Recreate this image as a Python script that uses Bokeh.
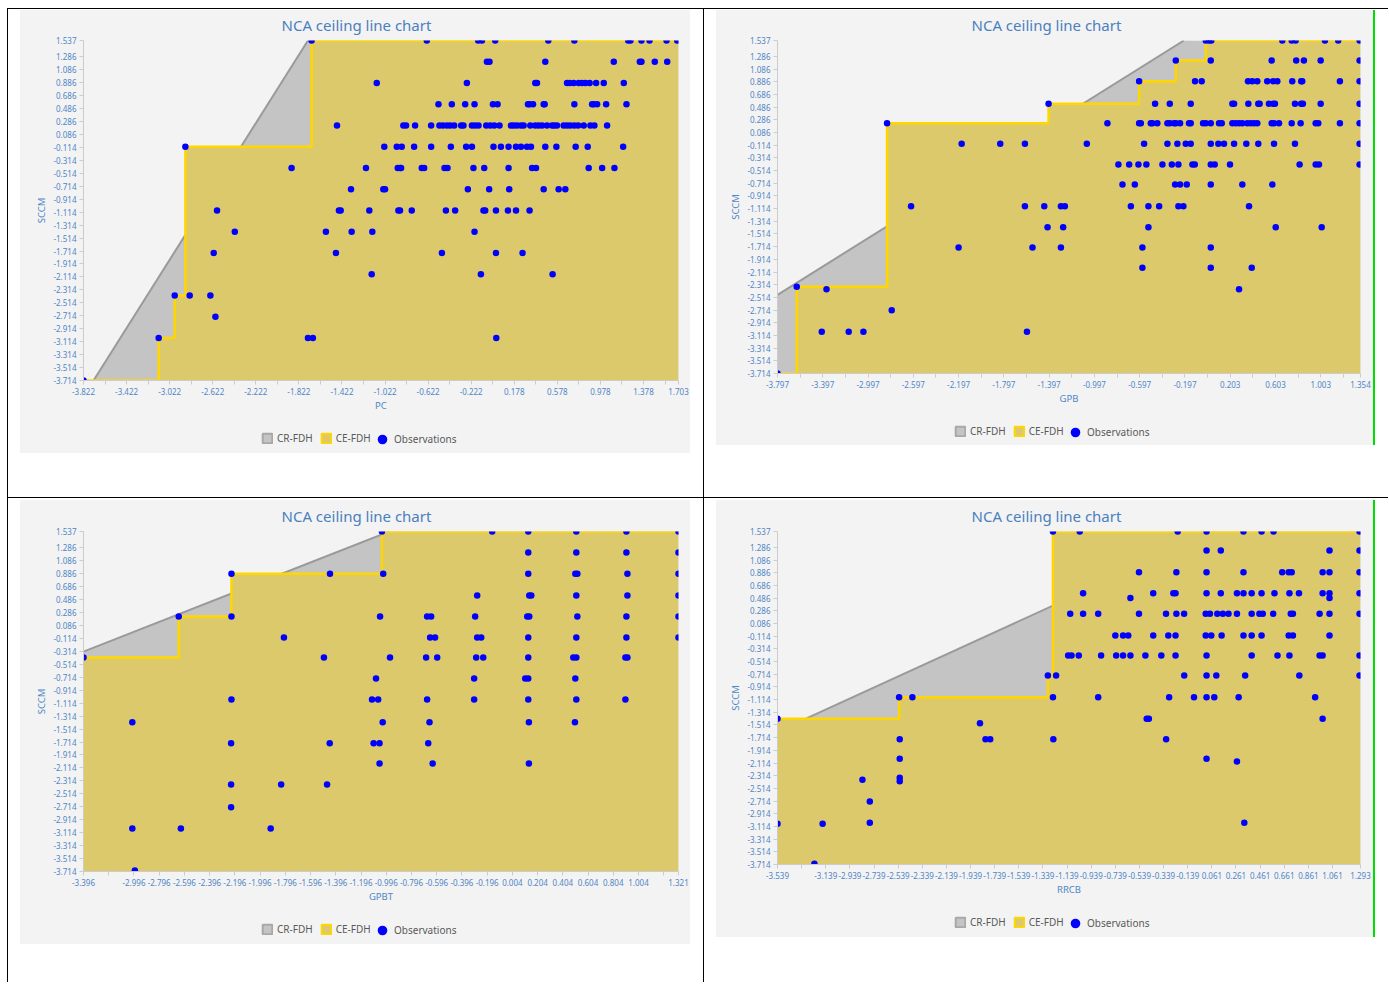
from bokeh.plotting import figure
from bokeh.models import (Range1d, FixedTicker, PrintfTickFormatter,
                          Legend, LegendItem, Div)
from bokeh.layouts import row, column
from bokeh.embed import file_html
from bokeh.resources import INLINE

FONT = "Noto Sans"
TITLE = "NCA ceiling line chart"
Y_LABEL = "SCCM"
Y_MIN, Y_MAX = -3.714, 1.537
y_ticks = [-3.714, -3.514, -3.314, -3.114, -2.914, -2.714, -2.514, -2.314, -2.114,
           -1.914, -1.714, -1.514, -1.314, -1.114, -0.914, -0.714, -0.514, -0.314,
           -0.114, 0.086, 0.286, 0.486, 0.686, 0.886, 1.086, 1.286, 1.537]
legend_labels = ["CR-FDH", "CE-FDH", "Observations"]

# ---------------- Panel 1 : PC ----------------
pc_label = "PC"
pc_range = [-3.822, 1.703]
pc_ticks = [-3.822, -3.422, -3.022, -2.622, -2.222, -1.822, -1.422, -1.022, -0.622,
            -0.222, 0.178, 0.578, 0.978, 1.378, 1.703]
pc_minor = [-3.622, -3.222, -2.822, -2.422, -2.022, -1.622, -1.222, -0.822, -0.422,
            -0.022, 0.378, 0.778, 1.178, 1.578]
pc_cr = [6.119, 2.637]          # CR-FDH intercept, slope
pc_row_y = [1.537, 1.209, 0.881, 0.553, 0.224, -0.104, -0.432, -0.760, -1.089,
            -1.417, -1.745, -2.073, -2.401, -2.730, -3.058, -3.714]
pc_row_x = [
    [-1.704, -0.634, -0.157, -0.122, 0.001, 0.494, 0.736, 1.236, 1.257, 1.359, 1.434, 1.592, 1.691],
    [-0.076, -0.052, 0.466, 1.102, 1.344, 1.359, 1.483, 1.598],
    [-1.099, -0.262, 0.373, 0.389, 0.668, 0.692, 0.730, 0.776, 0.808, 0.838, 0.878, 0.938, 1.009, 1.195],
    [-0.526, -0.402, -0.278, -0.191, -0.020, 0.023, 0.305, 0.320, 0.352, 0.451, 0.460, 0.736, 0.901,
     0.916, 0.947, 1.031, 1.220],
    [-1.468, -0.852, -0.827, -0.743, -0.594, -0.517, -0.485, -0.448, -0.417, -0.380, -0.315, -0.294,
     -0.215, -0.185, -0.154, -0.082, -0.045, -0.008, 0.041, 0.147, 0.172, 0.203, 0.240, 0.265, 0.327,
     0.373, 0.404, 0.436, 0.482, 0.529, 0.550, 0.575, 0.637, 0.668, 0.699, 0.736, 0.771, 0.823, 0.885,
     0.922, 1.040],
    [-2.876, -1.029, -0.913, -0.867, -0.752, -0.594, -0.411, -0.269, -0.215, -0.015, 0.054, 0.125,
     0.194, 0.240, 0.296, 0.333, 0.466, 0.569, 0.748, 0.860, 1.189],
    [-1.890, -1.199, -0.904, -0.883, -0.873, -0.681, -0.659, -0.470, -0.442, -0.201, -0.101, 0.125,
     0.343, 0.380, 0.869, 0.994, 1.108],
    [-1.338, -1.038, -1.022, -0.253, -0.055, 0.131, 0.451, 0.590, 0.652],
    [-2.582, -1.450, -1.434, -1.168, -0.898, -0.883, -0.774, -0.457, -0.371, -0.108, -0.092, 0.008,
     0.119, 0.194, 0.320],
    [-2.417, -1.571, -1.332, -1.140, -0.191],
    [-2.613, -1.478, -0.494, 0.008, 0.255],
    [-1.146, -0.132, 0.534],
    [-2.975, -2.836, -2.644],
    [-2.597],
    [-3.124, -1.738, -1.692, 0.011],
    [-3.822],
]

# ---------------- Panel 2 : GPB ----------------
gpb_label = "GPB"
gpb_range = [-3.797, 1.354]
gpb_ticks = [-3.797, -3.397, -2.997, -2.597, -2.197, -1.797, -1.397, -0.997, -0.597,
             -0.197, 0.203, 0.603, 1.003, 1.354]
gpb_minor = [-3.597, -3.197, -2.797, -2.397, -1.997, -1.597, -1.197, -0.797, -0.397,
             0.003, 0.403, 0.803, 1.203]
gpb_cr = [1.767, 1.117]
gpb_row_y = [1.537, 1.222, 0.895, 0.540, 0.233, -0.092, -0.419, -0.734, -1.076, -1.407,
             -1.727, -2.048, -2.347, -2.385, -2.715, -3.055, -3.714]
gpb_row_x = [
    [-0.013, 0.016, 0.036, 0.663, 0.746, 0.781, 1.040, 1.157, 1.346],
    [-0.278, 0.031, 0.569, 0.786, 0.854, 1.002, 1.346],
    [-0.602, -0.108, -0.049, 0.360, 0.398, 0.442, 0.530, 0.581, 0.619, 0.751, 0.830, 0.839, 1.172, 1.346],
    [-1.402, -0.461, -0.331, -0.146, 0.222, 0.237, 0.363, 0.451, 0.463, 0.545, 0.581, 0.598, 0.775,
     0.830, 0.845, 1.002, 1.346],
    [-2.829, -0.882, -0.602, -0.587, -0.499, -0.485, -0.441, -0.352, -0.331, -0.293, -0.278, -0.240,
     -0.161, -0.146, -0.037, -0.013, 0.031, 0.104, 0.128, 0.222, 0.251, 0.281, 0.310, 0.354, 0.384,
     0.413, 0.442, 0.569, 0.590, 0.634, 0.746, 0.825, 0.958, 0.981, 1.172, 1.346],
    [-2.170, -1.829, -1.611, -1.064, -0.558, -0.352, -0.264, -0.190, -0.146, 0.031, 0.098, 0.148,
     0.237, 0.345, 0.451, 0.590, 0.775, 1.346],
    [-0.785, -0.690, -0.608, -0.538, -0.396, -0.313, -0.255, -0.131, -0.110, 0.031, 0.066, 0.201,
     0.816, 0.958, 0.987, 1.346],
    [-0.749, -0.640, -0.284, -0.240, -0.181, 0.031, 0.310, 0.575],
    [-2.617, -1.611, -1.440, -1.293, -1.258, -0.675, -0.520, -0.425, -0.255, -0.211, 0.369],
    [-1.411, -1.273, -0.520, 0.605, 1.011],
    [-2.197, -1.544, -1.293, -0.573, 0.031],
    [-0.573, 0.031, 0.393],
    [-3.627],
    [-3.364, 0.281],
    [-2.788],
    [-3.406, -3.168, -3.038, -1.593],
    [-3.797],
]

# ---------------- Panel 3 : GPBT ----------------
gpbt_label = "GPBT"
gpbt_range = [-3.396, 1.321]
gpbt_ticks = [-3.396, -2.996, -2.796, -2.596, -2.396, -2.196, -1.996, -1.796, -1.596,
              -1.396, -1.196, -0.996, -0.796, -0.596, -0.396, -0.196, 0.004, 0.204,
              0.404, 0.604, 0.804, 1.004, 1.321]
gpbt_minor = [-3.196, 1.204]
gpbt_cr = [2.280, 0.765]
gpbt_row_y = [1.537, 1.213, 0.886, 0.549, 0.224, -0.100, -0.409, -0.733, -1.058, -1.410,
              -1.733, -2.045, -2.370, -2.721, -3.050, -3.698]
gpbt_row_x = [
    [-1.030, -0.156, 0.130, 0.511, 0.908, 1.321],
    [0.130, 0.511, 0.908, 1.321],
    [-2.223, -1.442, -1.020, 0.130, 0.503, 0.519, 0.916, 1.321],
    [-0.275, 0.138, 0.154, 0.511, 0.916, 1.321],
    [-2.641, -2.223, -1.045, -0.672, -0.640, -0.291, 0.122, 0.138, 0.519, 0.908, 1.321],
    [-1.807, -0.648, -0.609, -0.275, -0.243, 0.130, 0.511, 0.908, 1.321],
    [-3.396, -1.490, -0.966, -0.680, -0.592, -0.283, -0.227, 0.130, 0.487, 0.511, 0.900, 0.916],
    [-1.077, -0.299, 0.106, 0.130, 0.503],
    [-2.223, -1.109, -1.060, -0.672, -0.299, 0.130, 0.511, 0.900],
    [-3.009, -1.024, -0.653, 0.135, 0.500],
    [-2.226, -1.444, -1.096, -1.049, -0.663],
    [-1.049, -0.628, 0.135],
    [-2.226, -1.829, -1.465],
    [-2.226],
    [-3.009, -2.624, -1.912],
    [-2.989],
]

# ---------------- Panel 4 : RRCB ----------------
rrcb_label = "RRCB"
rrcb_range = [-3.539, 1.293]
rrcb_ticks = [-3.539, -3.139, -2.939, -2.739, -2.539, -2.339, -2.139, -1.939, -1.739,
              -1.539, -1.339, -1.139, -0.939, -0.739, -0.539, -0.339, -0.139, 0.061,
              0.261, 0.461, 0.661, 0.861, 1.061, 1.293]
rrcb_minor = [-3.339]
rrcb_cr = [1.461, 0.870]
rrcb_row_y = [1.537, 1.237, 0.895, 0.564, 0.490, 0.239, -0.103, -0.418, -0.734, -1.076,
              -1.416, -1.486, -1.738, -2.047, -2.090, -2.347, -2.378, -2.400, -2.720,
              -3.056, -3.072, -3.703]
rrcb_row_x = [
    [-1.256, -1.034, -0.222, 0.017, 0.323, 0.473, 0.572, 1.285],
    [0.017, 0.135, 1.036, 1.285],
    [-0.543, -0.233, 0.017, 0.323, 0.644, 0.698, 0.723, 0.979, 1.036, 1.285],
    [-1.006, -0.425, -0.258, -0.240, 0.017, 0.135, 0.269, 0.323, 0.391, 0.473, 0.580, 0.704,
     0.783, 0.979, 1.036, 1.285],
    [-0.614, 1.036],
    [-1.113, -1.006, -0.881, -0.543, -0.319, -0.233, -0.169, 0.010, 0.045, 0.106, 0.152, 0.199,
     0.269, 0.391, 0.455, 0.483, 0.569, 0.715, 0.733, 0.954, 1.036, 1.285],
    [-0.739, -0.675, -0.632, -0.425, -0.300, -0.240, 0.010, 0.056, 0.142, 0.323, 0.391, 0.473,
     0.698, 0.733, 1.036],
    [-1.130, -1.102, -1.042, -0.857, -0.732, -0.675, -0.614, -0.490, -0.358, -0.240, 0.017, 0.391,
     0.605, 0.704, 0.954, 0.979, 1.285],
    [-1.298, -1.230, -0.168, 0.017, 0.098, 0.337, 0.786, 1.285],
    [-2.531, -2.421, -1.256, -0.881, -0.293, -0.087, 0.017, 0.081, 0.283, 0.917],
    [-3.539, -0.479, -0.461, 0.979],
    [-1.861],
    [-2.526, -1.815, -1.776, -1.253, -0.318],
    [-2.526, 0.017],
    [0.269],
    [-2.526],
    [-2.835],
    [-2.526],
    [-2.774],
    [-2.774, 0.330],
    [-3.539, -3.165],
    [-3.233],
]

BG = "#f3f3f3"
GRAY_FILL = "#c4c4c4"
GRAY_LINE = "#9a9a9a"
CE_FILL = "#dcc96c"
CE_LINE = "#ffd700"
DOT = "#0000ff"
TITLE_COLOR = "#4a80bf"
TICK_COLOR = "#4f86c6"
AXIS_COLOR = "#cccccc"


def flatten(row_y, row_x):
    xs, ys = [], []
    for yv, xr in zip(row_y, row_x):
        for xv in xr:
            xs.append(xv)
            ys.append(yv)
    return xs, ys


def ce_fdh(xs, ys, x_end):
    pts = sorted(zip(xs, ys))
    sx, sy = [pts[0][0]], [pts[0][1]]
    cur = pts[0][1]
    for xv, yv in pts[1:]:
        if yv > cur:
            if xv == sx[-1]:
                sy[-1] = yv
            else:
                sx += [xv, xv]
                sy += [cur, yv]
            cur = yv
    sx.append(x_end)
    sy.append(cur)
    return sx, sy


def chart(x_range, ticks, minor, x_label, row_y, row_x, cr, width, height,
          borders, title_offset):
    x0, x1 = x_range
    left, right, top, bottom = borders
    p = figure(width=width, height=height,
               x_range=Range1d(x0, x1), y_range=Range1d(Y_MIN, Y_MAX),
               output_backend="svg", toolbar_location=None,
               min_border_left=left, min_border_right=right,
               min_border_top=top, min_border_bottom=bottom,
               background_fill_color=BG, border_fill_color=BG,
               outline_line_color=None, x_axis_label=x_label,
               y_axis_label=Y_LABEL, title=TITLE)
    p.grid.visible = False
    p.title.align = "left"
    p.title.offset = title_offset
    p.title.vertical_align = "top"
    p.title.standoff = 8
    p.title.text_font = FONT
    p.title.text_font_size = "15px"
    p.title.text_font_style = "normal"
    p.title.text_color = TITLE_COLOR

    xs, ys = flatten(row_y, row_x)

    # CR-FDH region (area under the ceiling regression line)
    a, b = cr
    xs0 = max(x0, (Y_MIN - a) / b)
    xt = min(x1, (Y_MAX - a) / b)
    p.patch([xs0, xs0, xt, x1, x1],
            [Y_MIN, a + b * xs0, min(Y_MAX, a + b * xt), min(Y_MAX, a + b * x1), Y_MIN],
            fill_color=GRAY_FILL, line_color=None)
    p.line([xs0, xt], [a + b * xs0, min(Y_MAX, a + b * xt)],
           line_color=GRAY_LINE, line_width=2)

    # CE-FDH step ceiling
    sx, sy = ce_fdh(xs, ys, x1)
    p.patch(sx + [x1, sx[0]], sy + [Y_MIN, Y_MIN], fill_color=CE_FILL, line_color=None)
    p.line(sx, sy, line_color=CE_LINE, line_width=2.5)

    p.scatter(xs, ys, size=6.5, fill_color=DOT, line_color=None)

    xa, ya = p.xaxis[0], p.yaxis[0]
    xa.ticker = FixedTicker(ticks=ticks, minor_ticks=minor)
    ya.ticker = FixedTicker(ticks=y_ticks, minor_ticks=[])
    for ax in (xa, ya):
        ax.formatter = PrintfTickFormatter(format="%.3f")
        ax.axis_line_color = AXIS_COLOR
        ax.major_tick_line_color = AXIS_COLOR
        ax.minor_tick_line_color = AXIS_COLOR
        ax.major_tick_in = 0
        ax.minor_tick_in = 0
        ax.major_tick_out = 4
        ax.minor_tick_out = 4
        ax.major_label_text_font = FONT
        ax.major_label_text_font_size = "8px"
        ax.major_label_text_color = TICK_COLOR
        ax.major_label_standoff = 3
        ax.axis_label_text_font = FONT
        ax.axis_label_text_font_size = "9.5px"
        ax.axis_label_text_font_style = "normal"
        ax.axis_label_text_color = TICK_COLOR
    xa.axis_label_standoff = 1
    ya.axis_label_standoff = 2
    return p


def legend_strip(width, height, x_start):
    # key glyphs sit outside the strip's visible range; only the legend shows them
    q = figure(width=width, height=height, x_range=Range1d(0, 1), y_range=Range1d(0, 1),
               output_backend="svg", toolbar_location=None,
               x_axis_location=None, y_axis_location=None, min_border=0,
               background_fill_color=BG, border_fill_color=BG, outline_line_color=None)
    q.grid.visible = False
    cr_key = q.patch([5, 6, 6], [5, 5, 6], fill_color=GRAY_FILL, line_color="#a8a8a8",
                     line_width=2)
    ce_key = q.patch([5, 6, 6], [5, 5, 6], fill_color=CE_FILL, line_color=CE_LINE,
                     line_width=2)
    obs_key = q.scatter([5], [5], size=11, fill_color=DOT, line_color=None)
    common = dict(orientation="horizontal", padding=0, margin=0,
                  background_fill_alpha=0, border_line_alpha=0,
                  label_text_font=FONT, label_text_font_size="10px",
                  label_text_color="#595959")
    leg_a = Legend(items=[LegendItem(label=legend_labels[0], renderers=[cr_key]),
                          LegendItem(label=legend_labels[1], renderers=[ce_key])],
                   location=(x_start, (height - 12) // 2),
                   glyph_width=12, glyph_height=12, label_height=12,
                   label_standoff=4, spacing=7, **common)
    leg_b = Legend(items=[LegendItem(label=legend_labels[2], renderers=[obs_key])],
                   location=(x_start + 109, (height - 24) // 2),
                   glyph_width=24, glyph_height=24, label_height=24,
                   label_standoff=0, **common)
    q.add_layout(leg_a)
    q.add_layout(leg_b)
    return q


def bar(w, h, color, margin=(0, 0, 0, 0)):
    return Div(text="", width=w, height=h, margin=margin,
               styles={"background-color": color})


p1 = chart(pc_range, pc_ticks, pc_minor, pc_label, pc_row_y, pc_row_x, pc_cr,
           670, 415, (63, 12, 30, 45), 198)
p2 = chart(gpb_range, gpb_ticks, gpb_minor, gpb_label, gpb_row_y, gpb_row_x, gpb_cr,
           657, 408, (61, 13, 30, 45), 194)
p3 = chart(gpbt_range, gpbt_ticks, gpbt_minor, gpbt_label, gpbt_row_y, gpbt_row_x, gpbt_cr,
           670, 416, (63, 12, 31, 45), 198)
p4 = chart(rrcb_range, rrcb_ticks, rrcb_minor, rrcb_label, rrcb_row_y, rrcb_row_x, rrcb_cr,
           657, 409, (61, 13, 31, 45), 194)

cell_style = {"background-color": BG}
cell1 = column(p1, legend_strip(670, 28, 178), margin=(1, 13, 0, 12), styles=cell_style)
cell2 = column(p2, legend_strip(657, 27, 177), margin=(1, 0, 0, 12), styles=cell_style)
cell3 = column(p3, legend_strip(670, 28, 178), margin=(2, 13, 0, 12), styles=cell_style)
cell4 = column(p4, legend_strip(657, 28, 177), margin=(2, 0, 0, 12), styles=cell_style)

row1 = row(bar(1, 488, "black"), cell1, bar(1, 488, "black"), cell2,
           bar(2, 435, "#00dd00", margin=(1, 0, 0, 0)))
row2 = row(bar(1, 484, "black"), cell3, bar(1, 484, "black"), cell4,
           bar(2, 437, "#00dd00", margin=(2, 0, 0, 0)))
layout = column(bar(1381, 1, "black"), row1, bar(1381, 1, "black"), row2,
                margin=(8, 0, 0, 7))

open("out.html", "w").write(file_html(layout, INLINE, title="NCA ceiling line charts"))
